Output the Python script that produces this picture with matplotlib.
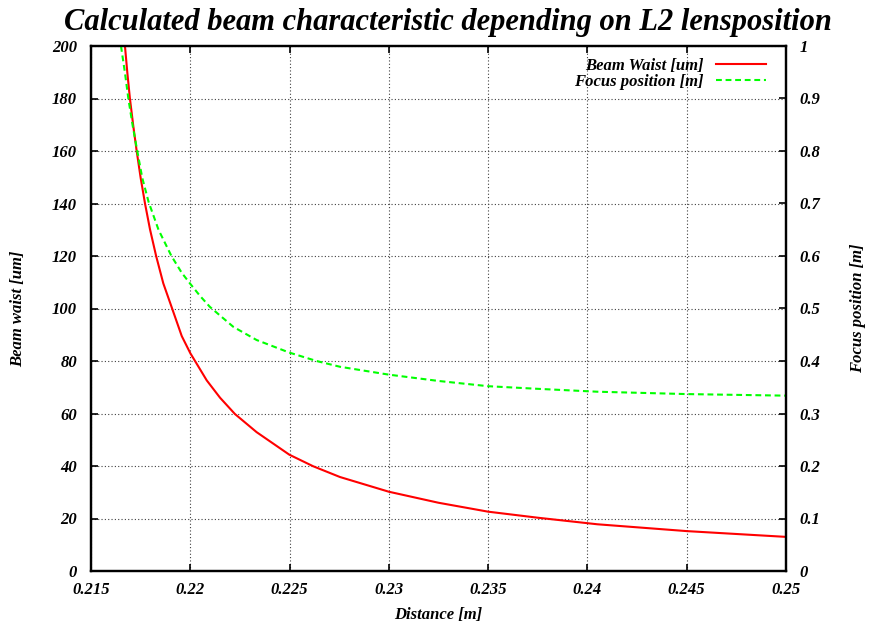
import matplotlib
matplotlib.use("Agg")
import matplotlib.pyplot as plt

# Beam waist [um], against L2 lens position [m]
waist_x = [0.21671, 0.21683, 0.21696, 0.21713, 0.21730, 0.21750, 0.21772, 0.21797,
           0.21828, 0.21864, 0.21909, 0.21957, 0.22000, 0.22083, 0.22150, 0.22225,
           0.22334, 0.22499, 0.22619, 0.22754, 0.2300, 0.2325, 0.2350, 0.2375,
           0.2405, 0.2450, 0.2500]
waist_y = [200, 189.8, 180, 169.5, 160, 149.8, 140, 130.2,
           120, 109.6, 99.9, 89.5, 83.0, 72.6, 66.0, 59.8,
           52.9, 44.3, 39.9, 35.8, 30.2, 26.0, 22.6, 20.3,
           17.8, 15.2, 13.0]

# Focus position [m]
focus_x = [0.21651, 0.21671, 0.21688, 0.21710, 0.21733, 0.21758, 0.21790, 0.21840,
           0.21905, 0.21957, 0.22000, 0.22049, 0.22099, 0.22217, 0.22334, 0.22499,
           0.22636, 0.22754, 0.2300, 0.2325, 0.2350, 0.2375, 0.2405, 0.2450, 0.2500]
focus_y = [1.0, 0.949, 0.900, 0.848, 0.800, 0.749, 0.703, 0.650,
           0.600, 0.568, 0.547, 0.524, 0.503, 0.465, 0.440, 0.416,
           0.400, 0.389, 0.374, 0.362, 0.352, 0.347, 0.3415, 0.337, 0.334]

x_ticks = [0.215, 0.22, 0.225, 0.23, 0.235, 0.24, 0.245, 0.25]
x_labels = ["0.215", "0.22", "0.225", "0.23", "0.235", "0.24", "0.245", "0.25"]
y_ticks = list(range(0, 201, 20))
y2_ticks = [0, 0.1, 0.2, 0.3, 0.4, 0.5, 0.6, 0.7, 0.8, 0.9, 1]
y2_labels = ["0", "0.1", "0.2", "0.3", "0.4", "0.5", "0.6", "0.7", "0.8", "0.9", "1"]

plt.rcParams["font.family"] = ["Liberation Serif", "DejaVu Serif"]
plt.rcParams["font.weight"] = "bold"
plt.rcParams["font.style"] = "italic"
plt.rcParams["axes.labelweight"] = "bold"

fig = plt.figure(figsize=(8.7, 6.25), dpi=100)
ax = fig.add_axes([0.1046, 0.0864, 0.7988, 0.84])
ax2 = ax.twinx()

l1, = ax.plot(waist_x, waist_y, color="#ff0000", lw=1.5, label="Beam Waist [um]")
l2, = ax2.plot(focus_x, focus_y, color="#00ff00", lw=1.5, dashes=(2.8, 1.8),
               label="Focus position [m]")

ax.set_xlim(0.215, 0.25)
ax.set_ylim(0, 200)
ax2.set_ylim(0, 1)

ax.set_xticks(x_ticks)
ax.set_xticklabels(x_labels)
ax.set_yticks(y_ticks)
ax2.set_yticks(y2_ticks)
ax2.set_yticklabels(y2_labels)

ax.grid(True, color="0.25", linestyle=(0, (1, 2)), linewidth=0.8)

ax.tick_params(axis="x", direction="in", length=5, width=1.2, top=True,
               labelsize=12, pad=8)
ax.tick_params(axis="y", direction="in", length=5, width=1.2, labelsize=12, pad=10)
ax2.tick_params(axis="y", direction="in", length=5, width=1.2, labelsize=12, pad=10)

for a in (ax, ax2):
    for s in a.spines.values():
        s.set_linewidth(1.6)

ax.set_xlabel("Distance [m]", fontsize=12)
ax.xaxis.set_label_coords(0.5, -0.0686)
ax.set_ylabel("Beam waist [um]", fontsize=12)
ax.yaxis.set_label_coords(-0.0935, 0.5)
ax2.set_ylabel("Focus position [m]", fontsize=12)
ax2.yaxis.set_label_coords(1.092, 0.5)

fig.text(0.515, 1 - 30 / 625, "Calculated beam characteristic depending on L2 lensposition",
         ha="center", va="baseline", fontsize=22)

ax2.legend(handles=[l1, l2], loc="upper right", bbox_to_anchor=(0.985, 0.997),
           frameon=False, markerfirst=False, fontsize=12, handlelength=3.0,
           labelspacing=0.0, handletextpad=0.7, borderaxespad=0.2)

fig.savefig("out.png", dpi=100)
